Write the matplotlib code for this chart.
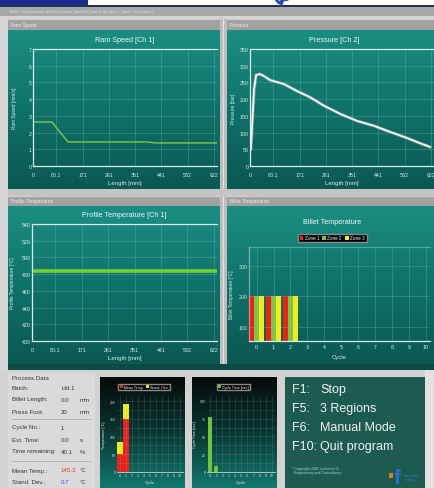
import numpy as np
import matplotlib.pyplot as plt
from matplotlib.colors import LinearSegmentedColormap
from matplotlib.patches import Rectangle

W, H = 434, 489

# ---- values ----
length_ticks = [0, 80.1, 171, 261, 351, 441, 532, 622]
length_labels = ["0", "80.1", "171", "261", "351", "441", "532", "622"]

ram_length = [0, 65, 120, 392, 420, 633]
ram_speed = [2.63, 2.63, 1.44, 1.44, 1.38, 1.38]
ram_yticks = [0, 1, 2, 3, 4, 5, 6, 7]

press_length = [3, 14, 21, 34, 48, 69, 93, 117, 162, 206, 255, 310,
                368, 427, 482, 530, 574, 619]
press_value = [51, 230, 272, 275, 269, 257, 251, 245, 224, 206, 180, 156,
               135, 120, 102, 87, 72, 57]
press_yticks = [0, 50, 100, 150, 200, 250, 300, 350]

profile_length = [0, 633]
profile_temp = [484, 484]
profile_yticks = [400, 420, 440, 460, 480, 500, 520, 540]

billet_cycles = [0, 1, 2]
zone1 = [200, 200, 200]
zone2 = [200, 200, 200]
zone3 = [200, 200, 200]
billet_yticks = [100, 200, 300]
cycle_ticks = list(range(11))

small_cycles = [0, 1]
mean_temp = [51, 150]
stand_dev = [34, 42]
small_temp_yticks = [0, 50, 100, 150, 200]

cycle_time = [78, 8]
cycle_time_yticks = [0, 25, 50, 75, 100]

info_rows = [
    ("Process Data", "", ""),
    ("Batch:", "Lfd.1", ""),
    ("Billet Length:", "0.0", "mm"),
    ("Press Foot:", "20", "mm"),
    ("Cycle No.:", "1", ""),
    ("Ext. Time:", "0.0", "s"),
    ("Time remaining:", "40.1", "%"),
    ("Mean Temp.:", "145.3", "°C"),
    ("Stand. Dev.:", "0.7", "°C"),
]
info_y = [379, 389, 400, 412, 428, 440, 452, 471, 482]

keys = ["F1:", "F5:", "F6:", "F10:"]
key_text = ["Stop", "3 Regions", "Manual Mode", "Quit program"]
key_y = [390, 409, 428, 447]

FONT = ['Liberation Sans', 'DejaVu Sans']
plt.rcParams['font.family'] = FONT

teal = LinearSegmentedColormap.from_list("teal", ["#1b8e83", "#0f726a", "#0a5852"])
dark = LinearSegmentedColormap.from_list("dark", ["#050b0a", "#0a3632", "#12786e"])


def px(x0, y0, x1, y1):
    return [x0 / W, 1 - y1 / H, (x1 - x0) / W, (y1 - y0) / H]


fig = plt.figure(figsize=(W / 100, H / 100), dpi=100, facecolor="#cfcfcf")
cv = fig.add_axes([0, 0, 1, 1])
cv.axis("off")
z = [1.0]


def box(x0, y0, x1, y1, c):
    z[0] += 0.01
    cv.add_patch(Rectangle((x0, y0), x1 - x0, y1 - y0, color=c, lw=0, zorder=z[0]))


def grad(x0, y0, x1, y1, cmap):
    z[0] += 0.01
    cv.imshow(np.linspace(0, 1, 256)[:, None], extent=[x0, x1, y1, y0],
              cmap=cmap, aspect="auto", interpolation="bicubic", zorder=z[0])


# window chrome
box(0, 0, W, 7, "#ffffff")
box(0, 0, 88, 6, "#1c2a8c")
cv.plot([276, 279, 283, 287], [0.5, 4, 1, 0.5], color="#2a4aa8", lw=2, zorder=5)
cv.plot([283, 281], [1, 6], color="#2a4aa8", lw=2, zorder=5)
box(0, 6, W, 7.5, "#1d2f5a")
box(0, 7.5, W, 17, "#a9a9a9")
cv.text(10, 12.3, "Billet Temperature and Extrusion Speed Control System - Taper Simulation",
        fontsize=3.2, color="#dcdcdc", va="center", zorder=5)
box(0, 17, W, 20, "#d4d4d4")
box(0, 20, 8, 371, "#d6d6d6")

# panel headers / separators
for x0, x1, y0, y1, name in [(8, 220, 20, 31, "Ram Speed"), (227, W, 20, 31, "Pressure"),
                             (8, 220, 197, 207, "Profile Temperature"),
                             (227, W, 197, 207, "Billet Temperature")]:
    box(x0, y0, x1, y1, "#a2a2a2")
    box(x0, y0, x1, y0 + 1, "#cfcfcf")
    cv.text(x0 + 3, (y0 + y1) / 2, name, fontsize=3.4, color="#e8e8e8", va="center", zorder=5)

grad(8, 31, 220, 190, teal)
grad(227, 31, W, 190, teal)
grad(8, 207, 220, 367, teal)
grad(227, 207, W, 365, teal)
box(220, 20, 227, 371, "#bdbdbd")
box(222.5, 20, 224, 371, "#e4e4e4")
box(8, 190, W, 197, "#c4c4c4")
box(8, 365, W, 371, "#0c4a45")

# bottom area
box(0, 371, W, H, "#d2d2d2")
box(8, 374, 95, H, "#dadada")
for y in (420, 462):
    cv.plot([12, 90], [y, y], color="#a8a8a8", lw=0.6, zorder=5)
for (lab, val, unit), y in zip(info_rows, info_y):
    cv.text(12, y, lab, fontsize=4.4, color="#333333", va="center", zorder=5)
    vcol = "#e83a2a" if lab.startswith("Mean") else ("#3a5ad0" if lab.startswith("Stand") else "#333333")
    cv.text(61, y, val, fontsize=4.4, color=vcol, va="center", zorder=5)
    cv.text(80, y, unit, fontsize=4.4, color="#333333", va="center", zorder=5)

grad(100, 378, 185, H, dark)
grad(192, 378, 277, H, dark)
box(285, 378, 425, H, "#1d5b51")
for k, t, y in zip(keys, key_text, key_y):
    cv.text(292, y, k, fontsize=9, color="#f2f2f2", va="center", zorder=5,
            family=['Liberation Sans Narrow', 'Liberation Sans'])
    cv.text(320, y, t, fontsize=9, color="#f2f2f2", va="center", zorder=5,
            family=['Liberation Sans Narrow', 'Liberation Sans'])
cv.text(292, 471, "* Copyright 2002 Lemmerz &\n  Engineering and Consultancy", fontsize=2.6,
        color="#b8d0cb", va="center", linespacing=1.3, zorder=5)
box(389, 474, 393, 479, "#e07a20")
cv.text(394, 488, "f", fontsize=15, color="#2a72d0", fontweight="bold", va="bottom", zorder=5)
cv.text(405, 478, "extrude\nonline", fontsize=3, color="#3a7ad8", va="center", zorder=5)
box(425, 371, W, H, "#e2e2e2")

cv.set_xlim(0, W)
cv.set_ylim(H, 0)

LIGHT = "#dcefeb"


def style(ax, yticks, xticks=None, xlabels=None, tsize=3.8, xpad=4):
    ax.set_facecolor("none")
    ax.set_yticks(yticks)
    if xticks is not None:
        ax.set_xticks(xticks)
        ax.set_xticklabels(xlabels if xlabels is not None else [str(v) for v in xticks])
    ax.tick_params(axis="both", colors=LIGHT, labelsize=tsize, length=0)
    ax.tick_params(axis="x", pad=xpad)
    ax.tick_params(axis="y", pad=1.2)
    ax.grid(True, color="#a8d8d0", alpha=0.3, lw=0.5)
    for s in ("left", "bottom", "top"):
        ax.spines[s].set_color("#d8ece8")
        ax.spines[s].set_linewidth(0.9)
    ax.spines["right"].set_visible(False)


def labels(ax, title, tx, ty, xlab, xly, ylab, ylx, size=5.2):
    ax.text(tx, ty, title, transform=ax.transAxes, ha="center", va="center",
            fontsize=size, color="#f0f8f6")
    ax.text(0.5, xly, xlab, transform=ax.transAxes, ha="center", va="center",
            fontsize=4.3, color=LIGHT)
    ax.text(ylx, 0.5, ylab, transform=ax.transAxes, ha="center", va="center",
            fontsize=3.4, color=LIGHT, rotation=90)


# Ram speed
ax1 = fig.add_axes(px(33, 50, 217, 167))
ax1.plot(ram_length, ram_speed, color="#7fcb45", lw=1.0)
ax1.set_xlim(0, 633)
ax1.set_ylim(0, 7)
style(ax1, ram_yticks, length_ticks, length_labels)
labels(ax1, "Ram Speed [Ch 1]", 0.5, 1.085, "Length [mm]", -0.137, "Ram Speed [mm/s]", -0.103)

# Pressure
ax2 = fig.add_axes(px(250, 50, 434, 167))
ax2.plot(press_length, press_value, color="#9aa8a6", lw=2.4, alpha=0.6)
ax2.plot(press_length, press_value, color="#f6f6f6", lw=1.3)
ax2.set_xlim(0, 633)
ax2.set_ylim(0, 350)
style(ax2, press_yticks, length_ticks, length_labels)
labels(ax2, "Pressure [Ch 2]", 0.46, 1.085, "Length [mm]", -0.137, "Pressure [bar]", -0.092)

# Profile temperature
ax3 = fig.add_axes(px(32, 225, 217, 342))
ax3.plot(profile_length, profile_temp, color="#72d234", lw=2.6)
ax3.set_xlim(0, 633)
ax3.set_ylim(400, 540)
style(ax3, profile_yticks, length_ticks, length_labels)
labels(ax3, "Profile Temperature [Ch 1]", 0.5, 1.085, "Length [mm]", -0.137,
       "Profile Temperature [°C]", -0.103)

# Billet temperature
ax4 = fig.add_axes(px(249, 248, 430, 342))
cyc = np.array(billet_cycles)
ax4.bar(cyc - 0.3, zone1, width=0.3, color="#e8231b", label="Zone 1")
ax4.bar(cyc, zone2, width=0.3, color="#7dc243", label="Zone 2")
ax4.bar(cyc + 0.3, zone3, width=0.3, color="#f3ec1b", label="Zone 3")
ax4.set_xlim(-0.45, 10.25)
ax4.set_ylim(54, 362)
style(ax4, billet_yticks, cycle_ticks, tsize=3.8, xpad=2.5)
ax4.spines["top"].set_alpha(0.35)
ax4.spines["left"].set_alpha(0.5)
labels(ax4, "Billet Temperature", 0.46, 1.266, "Cycle", -0.17, "Billet Temperature [°C]", -0.094)
ax4.legend(loc="center", bbox_to_anchor=(0.46, 1.096), ncol=3, fontsize=3.3,
           facecolor="black", edgecolor="#8a8a8a", framealpha=1, labelcolor="white",
           handlelength=0.8, handleheight=0.8, handletextpad=0.3, columnspacing=0.7,
           borderpad=0.35)


def small_style(ax, yticks):
    ax.set_facecolor("none")
    ax.set_xlim(-0.5, 10.5)
    ax.set_xticks(cycle_ticks)
    ax.set_yticks(yticks)
    step = yticks[1] - yticks[0]
    ax.set_yticks([v + step / 2 for v in yticks[:-1]], minor=True)
    ax.tick_params(which="both", colors=LIGHT, labelsize=2.4, length=0, pad=1)
    ax.grid(True, which="both", color="#7fb8b0", alpha=0.3, lw=0.4)
    for s in ax.spines.values():
        s.set_visible(False)
    ax.spines["bottom"].set_visible(True)
    ax.spines["bottom"].set_color("#b8dcd6")
    ax.spines["bottom"].set_linewidth(0.6)
    ax.text(0.5, -0.13, "Cycle", transform=ax.transAxes, ha="center", va="center",
            fontsize=3, color=LIGHT)


# Mean temperature mini chart
ax5 = fig.add_axes(px(117, 397, 183, 473))
ax5.bar(small_cycles, mean_temp, width=0.9, color="#e8231b", label="Mean Temp.")
ax5.bar(small_cycles, stand_dev, width=0.9, bottom=mean_temp, color="#f3ec1b", label="Stand. Dev.")
ax5.set_ylim(0, 215)
small_style(ax5, small_temp_yticks)
ax5.text(-0.2, 0.5, "Temperature [°C]", transform=ax5.transAxes, rotation=90,
         ha="center", va="center", fontsize=2.6, color=LIGHT)
ax5.legend(loc="center", bbox_to_anchor=(0.41, 1.12), ncol=2, fontsize=2.6,
           facecolor="black", edgecolor="#8a8a8a", framealpha=1, labelcolor="white",
           handlelength=0.8, handleheight=0.8, handletextpad=0.3, columnspacing=0.7,
           borderpad=0.35)

# Cycle time mini chart
ax6 = fig.add_axes(px(207, 397, 275, 473))
ax6.bar(small_cycles, cycle_time, width=0.6, color="#6fc43a", label="Cycle Time [sec]")
ax6.set_ylim(0, 107)
small_style(ax6, cycle_time_yticks)
ax6.text(-0.18, 0.5, "Cycle Time [sec]", transform=ax6.transAxes, rotation=90,
         ha="center", va="center", fontsize=2.6, color=LIGHT)
ax6.legend(loc="center", bbox_to_anchor=(0.39, 1.12), fontsize=2.6,
           facecolor="black", edgecolor="#8a8a8a", framealpha=1, labelcolor="white",
           handlelength=0.8, handleheight=0.8, handletextpad=0.3, borderpad=0.35)

fig.savefig("out.png", dpi=100, facecolor=fig.get_facecolor())
